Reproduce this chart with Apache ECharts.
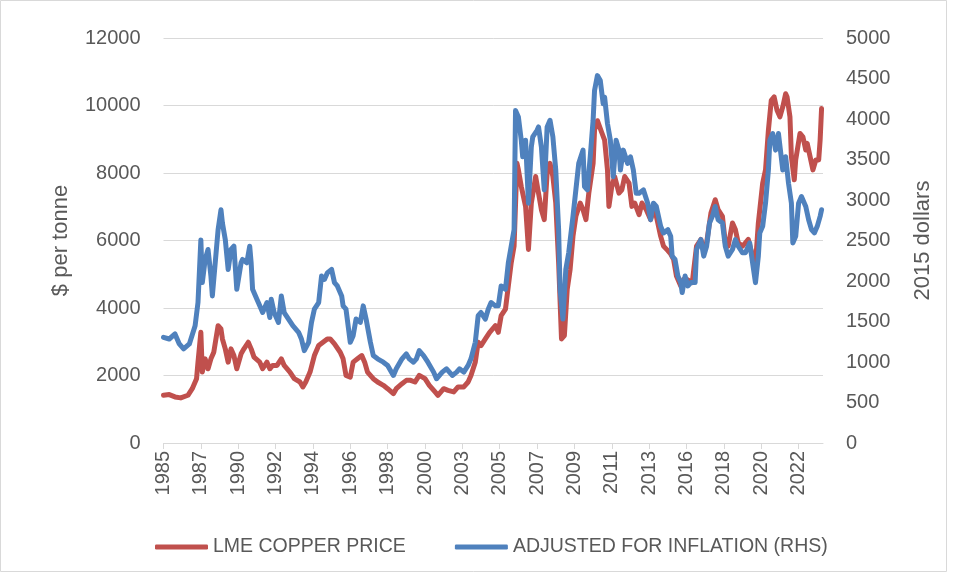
<!DOCTYPE html>
<html>
<head>
<meta charset="utf-8">
<title>LME copper price</title>
<script src="https://cdn.jsdelivr.net/npm/echarts@6/dist/echarts.min.js"></script>
<style>
	html, body { margin: 0; padding: 0; background: #fff; }
	#main { width: 954px; height: 578px; }
</style>
</head>
<body>
<div id="main"></div>
<script>
/**
 * LME copper price, nominal and in 2015 dollars
 */

// X axis tick labels (one every 26 months)
var yearLabels = ['1985', '1987', '1990', '1992', '1994', '1996', '1998', '2000', '2003',
	'2005', '2007', '2009', '2011', '2013', '2016', '2018', '2020', '2022'];

// LME copper price, $ per tonne (month index, value)
var priceMonths = [0, 4, 8, 12, 17, 20, 23, 24, 26, 27, 29, 31, 33, 35, 38, 40, 41, 43, 45, 47,
	49, 51, 54, 56, 59, 61, 63, 67, 69, 72, 74, 76, 79, 82, 84, 88, 91, 95, 97, 99,
	102, 105, 108, 111, 114, 116, 119, 123, 125, 127, 130, 132, 135, 138, 140, 142, 146, 149, 153, 156,
	160, 162, 166, 169, 172, 175, 178, 182, 185, 189, 191, 195, 198, 202, 205, 209, 212, 214, 217, 219,
	221, 224, 227, 231, 233, 235, 238, 240, 242, 244, 246, 247, 249, 252, 254, 256, 259, 261, 263, 265,
	267, 269, 271, 273, 275, 277, 279, 281, 283, 285, 287, 290, 292, 294, 296, 299, 300, 302, 305, 307,
	309, 310, 312, 314, 317, 319, 321, 324, 326, 328, 331, 333, 336, 339, 341, 343, 346, 348, 351, 353,
	355, 357, 360, 362, 364, 368, 371, 374, 376, 378, 381, 384, 386, 389, 391, 393, 396, 398, 400, 403,
	405, 407, 409, 412, 414, 415, 417, 419, 421, 423, 425, 427, 429, 431, 433, 434, 436, 437, 439, 440,
	443, 445, 447, 448, 450, 452, 454, 456, 457, 458];
var priceValues = [1414, 1434, 1365, 1336, 1414, 1610, 1905, 2396, 3280, 2101, 2494, 2200, 2494, 2690, 3476, 3378, 3083, 2789, 2396, 2789,
	2592, 2200, 2641, 2789, 2985, 2789, 2543, 2396, 2200, 2396, 2200, 2298, 2298, 2494, 2298, 2101, 1905, 1807, 1660, 1807,
	2101, 2592, 2887, 2985, 3083, 3083, 2936, 2690, 2494, 2003, 1954, 2396, 2494, 2592, 2396, 2101, 1905, 1807, 1709, 1610,
	1463, 1610, 1758, 1856, 1856, 1807, 2003, 1905, 1709, 1512, 1414, 1610, 1561, 1512, 1660, 1660, 1807, 2003, 2396, 2985,
	2887, 3083, 3280, 3476, 3280, 3771, 3967, 4655, 5342, 5833, 8288, 8092, 7601, 7011, 5735, 7110, 7895, 7404, 6913, 6619,
	7993, 8288, 7895, 7110, 5342, 3083, 3182, 4557, 5146, 6128, 6717, 7110, 6913, 6619, 7404, 8288, 9270, 9550, 9200, 8975,
	8092, 7011, 7601, 7895, 7404, 7503, 7895, 7699, 7011, 7110, 6766, 7110, 6913, 6619, 6913, 6717, 6128, 5833, 5700, 5600,
	5440, 4949, 4655, 4851, 4851, 4753, 5833, 6030, 5735, 5931, 6815, 7208, 6913, 6717, 5931, 5833, 6521, 6324, 5931, 5833,
	5931, 6030, 5700, 5300, 6521, 6913, 7699, 8092, 9270, 10154, 10252, 9859, 9663, 9958, 10350, 10252, 9663, 8485, 7797, 8387,
	9172, 9073, 8681, 8877, 8485, 8092, 8387, 8387, 8975, 9908];

// Adjusted for inflation, 2015 dollars (month index, value)
var realMonths = [0, 4, 8, 11, 14, 18, 22, 24, 26, 27, 29, 31, 33, 34, 36, 38, 40, 41, 43, 45,
	47, 49, 51, 54, 55, 58, 60, 61, 62, 65, 67, 69, 72, 74, 75, 77, 80, 82, 84, 87,
	90, 94, 96, 98, 101, 103, 105, 108, 110, 112, 114, 117, 119, 121, 124, 125, 127, 130, 132, 134,
	137, 139, 141, 144, 146, 149, 153, 156, 160, 162, 166, 169, 171, 174, 176, 178, 181, 184, 188, 190,
	194, 197, 201, 204, 206, 209, 212, 214, 217, 219, 221, 224, 226, 228, 231, 233, 235, 238, 240, 242,
	244, 245, 247, 249, 250, 252, 254, 256, 257, 260, 261, 263, 265, 267, 269, 271, 273, 275, 276, 278,
	280, 282, 285, 287, 289, 292, 293, 295, 297, 299, 300, 302, 304, 306, 307, 309, 311, 313, 315, 317,
	318, 320, 323, 325, 327, 329, 331, 334, 337, 339, 341, 343, 346, 348, 351, 353, 354, 356, 358, 360,
	361, 363, 365, 367, 370, 371, 374, 376, 378, 380, 382, 384, 386, 389, 391, 393, 396, 398, 400, 403,
	405, 407, 408, 410, 412, 414, 415, 417, 419, 421, 422, 424, 426, 428, 431, 433, 435, 437, 438, 440,
	442, 444, 447, 449, 451, 453, 455, 457, 458];
var realValues = [1305, 1284, 1346, 1223, 1162, 1223, 1448, 1734, 2507, 1980, 2266, 2389, 2061, 1816, 2225, 2634, 2879, 2716, 2511, 2143,
	2389, 2430, 1898, 2225, 2266, 2225, 2429, 2225, 1898, 1775, 1693, 1611, 1734, 1550, 1775, 1611, 1489, 1816, 1611, 1530,
	1448, 1366, 1284, 1141, 1243, 1489, 1652, 1734, 2061, 2020, 2100, 2143, 1980, 1939, 1816, 1693, 1652, 1243, 1325, 1530,
	1489, 1693, 1530, 1243, 1080, 1039, 998, 957, 834, 916, 1039, 1100, 1039, 998, 1039, 1141, 1080, 998, 875, 793,
	875, 916, 834, 875, 916, 875, 957, 1039, 1243, 1571, 1611, 1530, 1652, 1734, 1693, 1693, 1939, 1898, 2225, 2429,
	2634, 4106, 4025, 3738, 3534, 3738, 2961, 3656, 3779, 3861, 3902, 3656, 3125, 3902, 3984, 3779, 3370, 2634, 1898, 1530,
	2143, 2348, 2798, 3125, 3452, 3616, 3166, 3125, 3534, 3984, 4352, 4536, 4474, 4188, 4270, 3943, 3738, 3288, 3738, 3616,
	3370, 3616, 3452, 3534, 3370, 3084, 3084, 3125, 2961, 2757, 2961, 2920, 2675, 2593, 2634, 2552, 2307, 2266, 2061, 1980,
	1857, 2061, 1939, 1980, 1980, 2389, 2511, 2307, 2429, 2716, 2798, 2920, 2757, 2716, 2429, 2307, 2389, 2511, 2429, 2348,
	2348, 2429, 2470, 2225, 1980, 2307, 2593, 2675, 2961, 3370, 3738, 3820, 3616, 3820, 3370, 3534, 3207, 2961, 2470, 2552,
	2961, 3043, 2920, 2757, 2634, 2593, 2675, 2798, 2879];

var LABEL_STEP = 26;	// months between two year labels
var TEXT_COLOR = '#595959';
var GRID_COLOR = '#D9D9D9';

/**
 * pair months with values for a value axis
 */
function toPairs(months, values) {
	var list = [];
	for (var i = 0; i < months.length; i++) {
		list.push([months[i], values[i]]);
	}
	return list;
}

// plain numbers, no thousands separator
function plainNumber(v) {
	return String(v);
}

function initChart() {
	var myChart = echarts.init(document.getElementById('main'), null, { renderer: 'canvas' });

	var tickValues = [];
	for (var i = 0; i < yearLabels.length; i++) {
		tickValues.push(i * LABEL_STEP);
	}

	var font = 'Liberation Sans';

	var option = {
		animation: false,
		backgroundColor: '#fff',
		color: ['#C0504D', '#4F81BD'],
		textStyle: { fontFamily: font },
		grid: {
			left: 163.5,
			right: 131,
			top: 38,
			bottom: 135,
			containLabel: false,
			outerBoundsMode: 'none'
		},
		graphic: [{
			type: 'rect',
			shape: { x: 0.5, y: 0.5, width: 946, height: 571 },
			style: { fill: 'none', stroke: GRID_COLOR, lineWidth: 1 },
			silent: true
		}],
		legend: {
			left: 155,
			top: 537,
			padding: 0,
			itemWidth: 53,
			itemHeight: 5,
			itemGap: 49,
			icon: 'roundRect',
			textStyle: { color: TEXT_COLOR, fontSize: 19.5, fontFamily: font },
			data: ['LME COPPER PRICE', 'ADJUSTED FOR INFLATION (RHS)']
		},
		xAxis: {
			type: 'value',
			min: 0,
			max: 459,
			interval: LABEL_STEP,
			splitLine: { show: false },
			axisLine: { show: true, lineStyle: { color: GRID_COLOR, width: 1 } },
			axisTick: {
				show: true,
				length: 6,
				customValues: tickValues,
				lineStyle: { color: GRID_COLOR }
			},
			axisLabel: {
				rotate: 90,
				margin: 8,
				color: TEXT_COLOR,
				fontSize: 20,
				customValues: tickValues,
				formatter: function (v) {
					var k = Math.round(v / LABEL_STEP);
					return (v % LABEL_STEP === 0 && yearLabels[k]) ? yearLabels[k] : '';
				}
			}
		},
		yAxis: [{
			type: 'value',
			min: 0,
			max: 12000,
			interval: 2000,
			name: '$ per tonne',
			nameLocation: 'middle',
			nameGap: 92,
			nameTextStyle: { color: TEXT_COLOR, fontSize: 22 },
			axisLine: { show: false },
			axisTick: { show: false },
			axisLabel: { color: TEXT_COLOR, fontSize: 20, margin: 23, formatter: plainNumber },
			splitLine: { show: true, lineStyle: { color: GRID_COLOR, width: 1 } }
		}, {
			type: 'value',
			min: 0,
			max: 5000,
			interval: 500,
			position: 'right',
			name: '2015 dollars',
			nameLocation: 'middle',
			nameGap: 89,
			nameTextStyle: { color: TEXT_COLOR, fontSize: 22 },
			axisLine: { show: false },
			axisTick: { show: false },
			axisLabel: { color: TEXT_COLOR, fontSize: 20, margin: 23, formatter: plainNumber },
			splitLine: { show: false }
		}],
		series: [{
			name: 'LME COPPER PRICE',
			type: 'line',
			yAxisIndex: 0,
			symbol: 'none',
			lineStyle: { width: 5, color: '#C0504D', cap: 'round', join: 'round' },
			data: toPairs(priceMonths, priceValues)
		}, {
			name: 'ADJUSTED FOR INFLATION (RHS)',
			type: 'line',
			yAxisIndex: 1,
			symbol: 'none',
			lineStyle: { width: 5, color: '#4F81BD', cap: 'round', join: 'round' },
			data: toPairs(realMonths, realValues)
		}]
	};

	myChart.setOption(option);
}

initChart();
</script>
</body>
</html>
